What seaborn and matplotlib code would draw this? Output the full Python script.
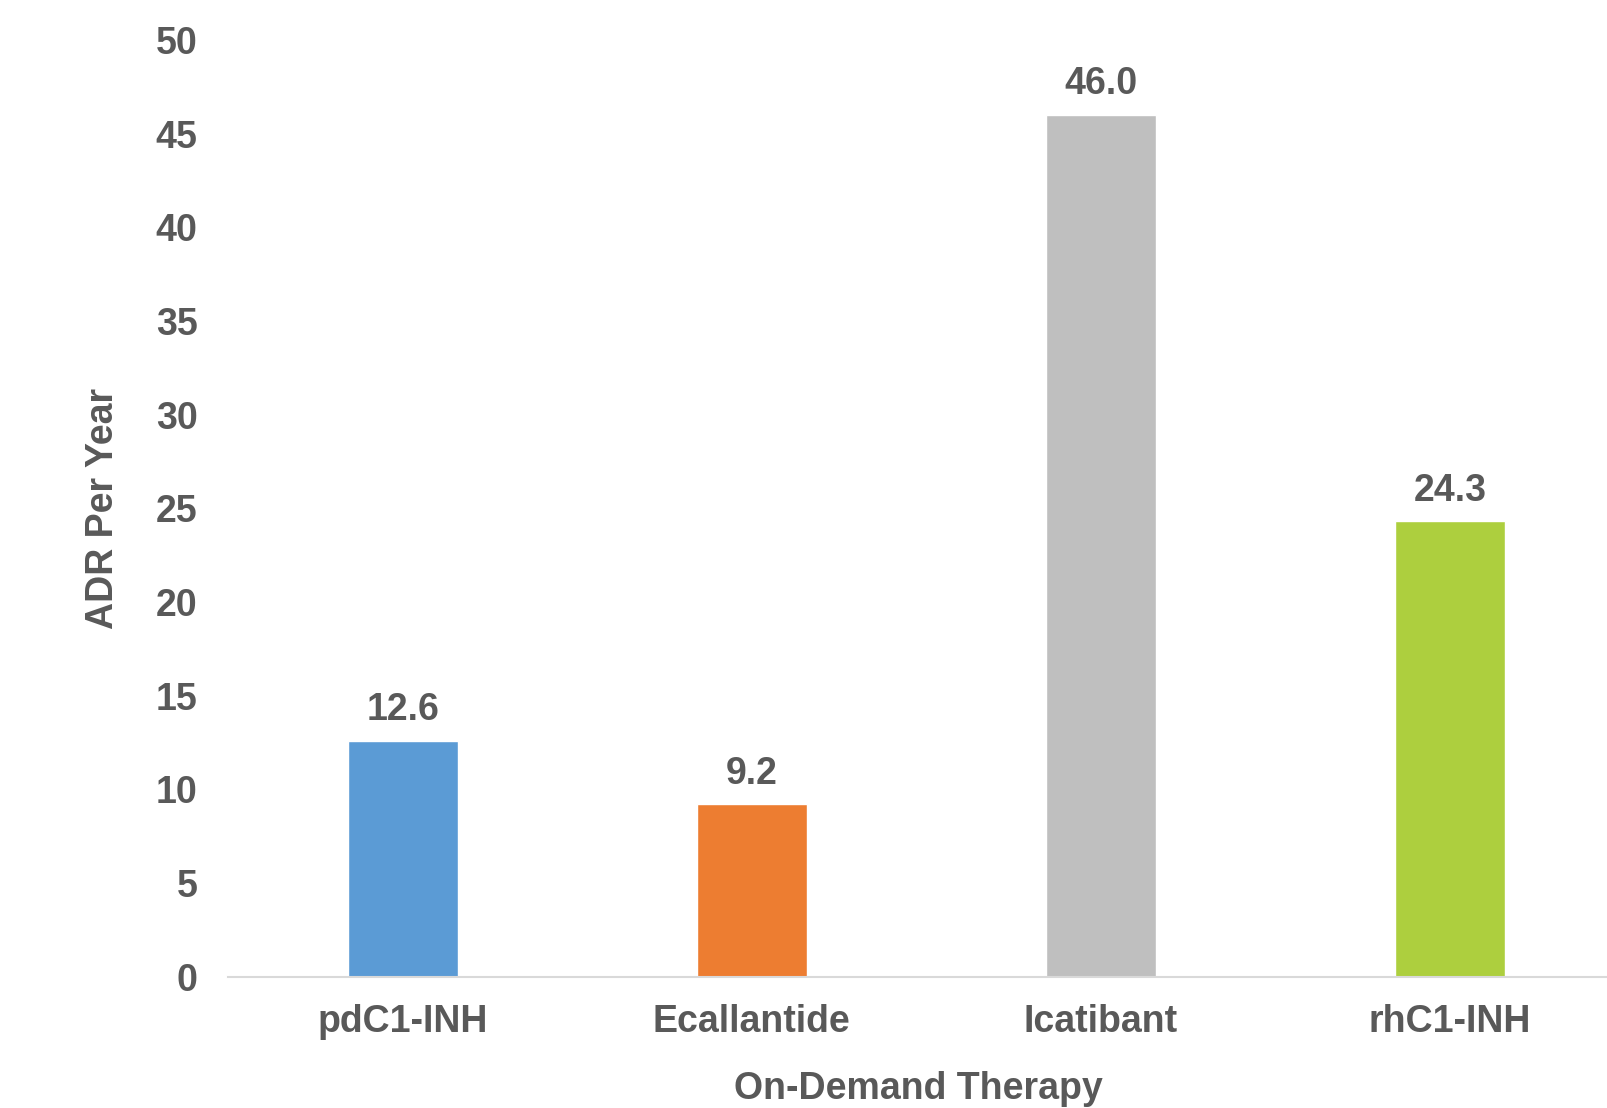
import matplotlib
matplotlib.use("Agg")
import matplotlib.pyplot as plt
import seaborn as sns
import pandas as pd

# Annual attack-day rate by on-demand therapy
therapies = ["pdC1-INH", "Ecallantide", "Icatibant", "rhC1-INH"]
adr_per_year = [12.6, 9.2, 46.0, 24.3]
bar_colors = ["#5B9BD5", "#ED7D31", "#BFBFBF", "#ADCF3E"]
y_ticks = [0, 5, 10, 15, 20, 25, 30, 35, 40, 45, 50]

df = pd.DataFrame({"therapy": therapies, "adr": adr_per_year})

sns.set_theme(style="white")
plt.rcParams["font.family"] = ["Liberation Sans", "DejaVu Sans"]
text_color = "#595959"
fs = 27

fig = plt.figure(figsize=(16.08, 11.08), dpi=100)
ax = fig.add_axes([0.1418, 0.1185, 0.8582, 0.8455])

sns.barplot(data=df, x="therapy", y="adr", hue="therapy",
            palette=bar_colors, width=0.315, legend=False,
            saturation=1, ax=ax)

for cont in ax.containers:
    ax.bar_label(cont, fmt="%.1f", padding=9, fontsize=fs,
                 fontweight="bold", color=text_color)

ax.set_xlim(-0.5, 3.453)
ax.set_ylim(0, 50)
ax.set_yticks(y_ticks)
ax.tick_params(axis="both", length=0, labelsize=fs, labelcolor=text_color)
ax.tick_params(axis="y", pad=22)
ax.tick_params(axis="x", pad=20)
for lab in ax.get_xticklabels() + ax.get_yticklabels():
    lab.set_fontweight("bold")

ax.set_xlabel("On-Demand Therapy", fontsize=fs, fontweight="bold",
              color=text_color, labelpad=22)
ax.set_ylabel("ADR Per Year", fontsize=fs, fontweight="bold",
              color=text_color, labelpad=25)

for side in ["top", "right", "left"]:
    ax.spines[side].set_visible(False)
ax.spines["bottom"].set_color("#D9D9D9")
ax.spines["bottom"].set_linewidth(1.5)

fig.savefig("out.png", dpi=100, facecolor="white")
